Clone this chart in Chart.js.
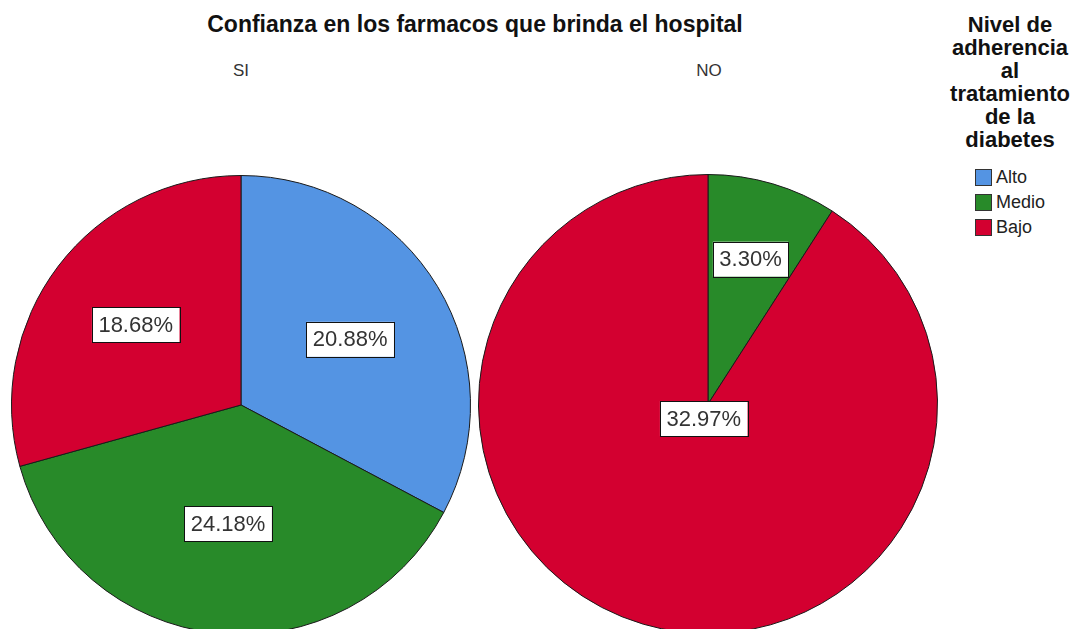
<!DOCTYPE html>
<html>
<head>
<meta charset="utf-8">
<script src="https://cdn.jsdelivr.net/npm/chart.js@4/dist/chart.umd.min.js"></script>
<style>
  html, body {
    margin: 0;
    padding: 0;
    width: 1076px;
    height: 629px;
    overflow: hidden;
    background: #fff;
    font-family: "Liberation Sans", Arial, sans-serif;
  }
  .abs { position: absolute; }
  #title {
    left: 175px; width: 600px; top: 11px;
    text-align: center; font-size: 23px; font-weight: bold; color: #111;
  }
  .group { font-size: 17px; color: #333; top: 61px; width: 60px; text-align: center; }
  #legendTitle {
    left: 944px; width: 132px; top: 13px;
    text-align: center; font-size: 22px; font-weight: bold; line-height: 23px; color: #111;
  }
  #legend { left: 975px; top: 165px; }
  .item { display: flex; align-items: center; height: 25px; font-size: 18px; color: #222; }
  .swatch { width: 15px; height: 15px; border: 1px solid #333; margin-right: 4px; }
</style>
</head>
<body>
<div id="title" class="abs">Confianza en los farmacos que brinda el hospital</div>
<div id="groupSI" class="abs group" style="left:211px">SI</div>
<div id="groupNO" class="abs group" style="left:679px">NO</div>
<div id="legendTitle" class="abs">Nivel de<br>adherencia<br>al<br>tratamiento<br>de la<br>diabetes</div>
<div id="legend" class="abs"></div>
<canvas id="pieSI" class="abs" width="460" height="460" style="left:11px; top:175px"></canvas>
<canvas id="pieNO" class="abs" width="460" height="460" style="left:478px; top:174px"></canvas>
<script>
// categories (legend order) and colours
const categories = ["Alto", "Medio", "Bajo"];
const colors = ["#5494E3", "#288A29", "#D30030"];

// percentages of the total, per group
const siValues = [20.88, 24.18, 18.68];
const noValues = [0, 3.30, 32.97];

// legend built from the categories
const legendEl = document.getElementById("legend");
categories.forEach((cat, i) => {
  const row = document.createElement("div");
  row.className = "item";
  row.innerHTML = `<span class="swatch" style="background:${colors[i]}"></span>${cat}`;
  legendEl.appendChild(row);
});

// draws the boxed percentage at the centroid of each slice
const sliceLabels = {
  id: "sliceLabels",
  afterDatasetsDraw(chart) {
    const ctx = chart.ctx;
    const meta = chart.getDatasetMeta(0);
    const data = chart.data.datasets[0].data;
    ctx.save();
    ctx.font = "22px 'Liberation Sans', Arial, sans-serif";
    ctx.textAlign = "center";
    ctx.textBaseline = "middle";
    meta.data.forEach((arc, i) => {
      if (!data[i]) return;
      const { x, y, startAngle, endAngle, outerRadius } = arc.getProps(
        ["x", "y", "startAngle", "endAngle", "outerRadius"], true);
      const theta = endAngle - startAngle;
      const mid = (startAngle + endAngle) / 2;
      // centroid of a circular sector
      const d = (4 * outerRadius * Math.sin(theta / 2)) / (3 * theta);
      const lx = x + Math.cos(mid) * d;
      const ly = y + Math.sin(mid) * d;
      const text = data[i].toFixed(2) + "%";
      const w = ctx.measureText(text).width + 13;
      const h = 35;
      ctx.fillStyle = "#fff";
      ctx.fillRect(lx - w / 2, ly - h / 2, w, h);
      ctx.strokeStyle = "#111";
      ctx.lineWidth = 1;
      ctx.strokeRect(Math.round(lx - w / 2) + 0.5, Math.round(ly - h / 2) + 0.5, Math.round(w), h);
      ctx.fillStyle = "#333";
      ctx.fillText(text, lx, ly + 1);
    });
    ctx.restore();
  }
};

function makePie(canvasId, values) {
  return new Chart(document.getElementById(canvasId), {
    type: "pie",
    data: {
      labels: categories,
      datasets: [{
        data: values,
        backgroundColor: colors,
        borderColor: "#1a1a1a",
        borderWidth: 1
      }]
    },
    options: {
      responsive: false,
      animation: false,
      layout: { padding: 0 },
      plugins: {
        legend: { display: false },
        tooltip: { enabled: false },
        title: { display: false }
      }
    },
    plugins: [sliceLabels]
  });
}

makePie("pieSI", siValues);
makePie("pieNO", noValues);
</script>
</body>
</html>
